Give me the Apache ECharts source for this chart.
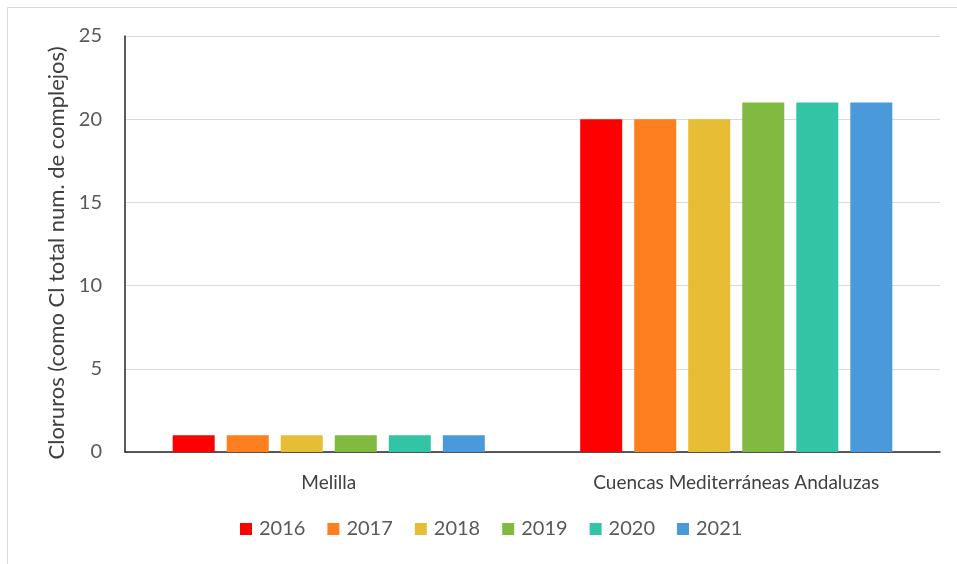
<!DOCTYPE html>
<html><head><meta charset="utf-8">
<script src="https://cdn.jsdelivr.net/npm/echarts@6/dist/echarts.min.js"></script>
<style>html,body{margin:0;padding:0;background:#fff}#c{width:957px;height:564px}</style>
</head><body><div id="c"></div>
<script>
const categories = ['Melilla', 'Cuencas Mediterráneas Andaluzas'];
const years = ['2016', '2017', '2018', '2019', '2020', '2021'];
const v2016 = [1, 20];
const v2017 = [1, 20];
const v2018 = [1, 20];
const v2019 = [1, 21];
const v2020 = [1, 21];
const v2021 = [1, 21];
const seriesValues = [v2016, v2017, v2018, v2019, v2020, v2021];
const colors = ['#FF0000', '#FD7F1F', '#E8BD36', '#82B941', '#33C4A6', '#4A9ADB'];
const yTicks = [0, 5, 10, 15, 20, 25];

const chart = echarts.init(document.getElementById('c'));
chart.setOption({
  animation: false,
  graphic: [{type: 'rect', shape: {x: 7.5, y: 7.5, width: 960, height: 600}, style: {fill: 'none', stroke: '#d9d9d9', lineWidth: 1}, silent: true}],
  grid: {left: 125, right: 17, top: 36, bottom: 112},
  legend: {
    data: years, top: 514, left: 235, itemWidth: 12, itemHeight: 12, itemGap: 22,
    icon: 'rect', textStyle: {fontFamily: 'Lato', fontSize: 20, color: '#595959', padding: [0, 0, 0, 2]}
  },
  xAxis: {
    type: 'category', data: categories,
    axisLine: {lineStyle: {color: '#262626', width: 1.5}}, axisTick: {show: false},
    axisLabel: {fontFamily: 'Lato', fontSize: 19, color: '#404040', margin: 21}
  },
  yAxis: {
    type: 'value', min: 0, max: 25, interval: 5,
    name: 'Cloruros (como Cl total num. de complejos)', nameLocation: 'middle', nameGap: 57,
    nameTextStyle: {fontFamily: 'Lato', fontSize: 22, color: '#404040', padding: [0, 18, 0, 0]},
    axisLine: {show: true, lineStyle: {color: '#262626', width: 1.5}},
    axisLabel: {fontFamily: 'Lato', fontSize: 20, color: '#595959', margin: 23,
      formatter: v => yTicks.includes(v) ? String(v) : ''},
    splitLine: {lineStyle: {color: '#d9d9d9'}}
  },
  series: years.map((y, i) => ({
    name: y, type: 'bar', data: seriesValues[i],
    itemStyle: {color: colors[i]},
    barGap: '28.6%', barCategoryGap: '23.4%'
  }))
});
</script></body></html>
